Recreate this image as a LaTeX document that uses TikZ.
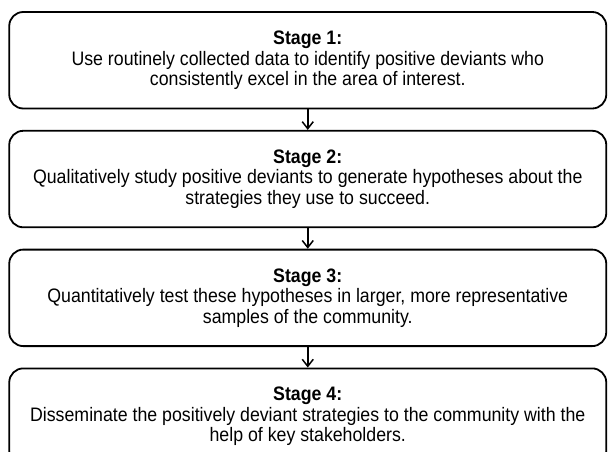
\documentclass[tikz,border=0pt]{standalone}
\usepackage{fontspec}
\setmainfont{Liberation Sans}[FakeStretch=0.91]
\usetikzlibrary{positioning}
\usetikzlibrary{arrows.meta}
\tikzset{
  stagebox/.style = {draw=black, line width=1.8pt, rounded corners=14pt,
    align=center, inner sep=0pt, minimum width=597pt, minimum height=96.5pt,
    font=\fontsize{19.5}{20.5}\selectfont},
  stagearrow/.style = {-{Straight Barb[length=7pt,width=11pt]}, line width=1.5pt},
}
\begin{document}
\begin{tikzpicture}[x=1pt,y=-1pt,node distance=20.5pt]
\useasboundingbox (0,0) rectangle (608,452);
\node [stagebox] (s1) at (307.75,60.25) {\textbf{Stage 1:}\\
    Use routinely collected data to identify positive deviants who\\
    consistently excel in the area of interest.};
\node [stagebox, below=of s1] (s2) {\textbf{Stage 2:}\\
    Qualitatively study positive deviants to generate hypotheses about the\\
    strategies they use to succeed.};
\node [stagebox, below=of s2] (s3) {\textbf{Stage 3:}\\
    Quantitatively test these hypotheses in larger, more representative\\
    samples of the community.};
\node [stagebox, below=of s3] (s4) {\textbf{Stage 4:}\\
    Disseminate the positively deviant strategies to the community with the\\
    help of key stakeholders.};
% arrows between the stages
\draw [stagearrow] (s1) -- (s2);
\draw [stagearrow] (s2) -- (s3);
\draw [stagearrow] (s3) -- (s4);
\end{tikzpicture}
\end{document}
